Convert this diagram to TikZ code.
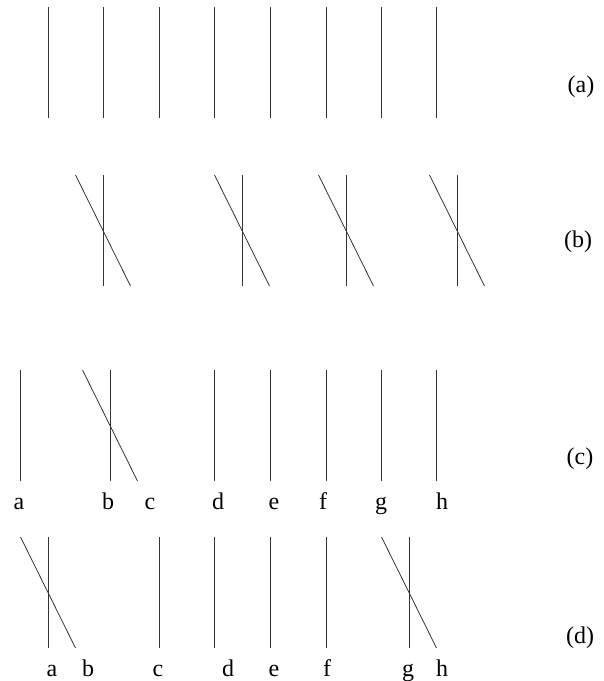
\documentclass[tikz,border=0pt]{standalone}
\usepackage{fontspec}
\setmainfont{Liberation Serif}
\begin{document}
\begin{tikzpicture}[x=1pt,y=-1pt,
  strand/.style={line width=0.8pt,draw=black!80},
  lbl/.style={font=\fontsize{24}{28}\selectfont,inner sep=0pt,anchor=base},
  rowlbl/.style={font=\fontsize{24}{28}\selectfont,inner sep=0pt,anchor=center}]
\useasboundingbox (0,0) rectangle (604,681);
% row (a)
\foreach \x in {48,103,159,214,270,326,381,436}
  \draw[strand] (\x,7) -- (\x,118);
\node[rowlbl] (la) at (581,87) {(a)};
% row (b)
\foreach \x in {103,242,346,457}{
  \draw[strand] (\x,175) -- (\x,286);
  \draw[strand] (\x-27.5,175) -- (\x+27.5,286);
}
\node[rowlbl] (lb) at (578,242) {(b)};
% row (c)
\foreach \x in {20,110,214,270,326,381,436}
  \draw[strand] (\x,370) -- (\x,481);
\draw[strand] (82.5,370) -- (137.5,481);
\node[lbl] (ca) at (19,509) {a};
\node[lbl] (cb) at (108,509) {b};
\node[lbl] (cc) at (150,509) {c};
\node[lbl] (cd) at (218,509) {d};
\node[lbl] (ce) at (274,509) {e};
\node[lbl] (cf) at (323,509) {f};
\node[lbl] (cg) at (381,509) {g};
\node[lbl] (ch) at (442,509) {h};
\node[rowlbl] (lc) at (580,459) {(c)};
% row (d)
\foreach \x in {48,159,214,270,326,409}
  \draw[strand] (\x,537) -- (\x,648);
\draw[strand] (20.5,537) -- (75.5,648);
\draw[strand] (381.5,537) -- (436.5,648);
\node[lbl] (da) at (52,676) {a};
\node[lbl] (db) at (88,676) {b};
\node[lbl] (dc) at (158,676) {c};
\node[lbl] (dd) at (228,676) {d};
\node[lbl] (de) at (274,676) {e};
\node[lbl] (df) at (327,676) {f};
\node[lbl] (dg) at (408,676) {g};
\node[lbl] (dh) at (442,676) {h};
\node[rowlbl] (ld) at (580,638) {(d)};
\end{tikzpicture}
\end{document}
